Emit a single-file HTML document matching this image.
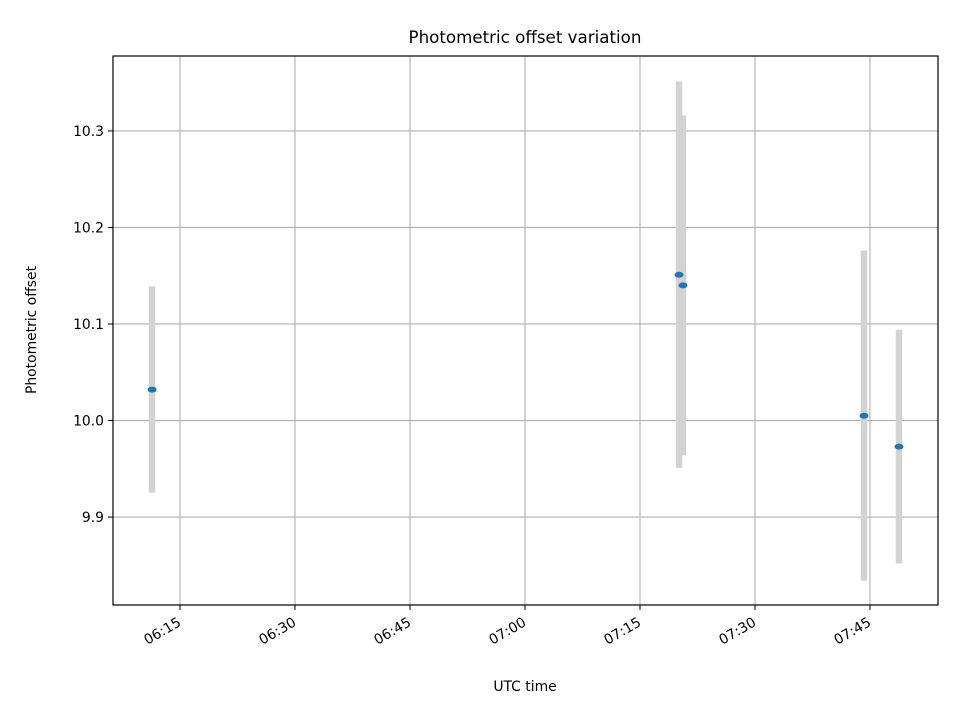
<!DOCTYPE html>
<html><head><meta charset="utf-8"><style>
body{margin:0;background:#fff;}
svg{display:block;font-family:"DejaVu Sans","Liberation Sans",sans-serif;}
</style></head><body>
<svg id="chart" width="960" height="720" viewBox="0 0 960 720">
<rect x="0" y="0" width="960" height="720" fill="#fff"/>
<g id="grid"></g>
<g id="bars"></g>
<g id="pts"></g>
<rect x="113" y="56" width="825" height="549" fill="none" stroke="#000" stroke-width="1.2"/>
<g id="xt"></g>
<g id="yt"></g>
<text x="525" y="43" text-anchor="middle" font-size="16.7">Photometric offset variation</text>
<text x="525" y="691" text-anchor="middle" font-size="13.9">UTC time</text>
<text x="36" y="330" text-anchor="middle" font-size="13.9" transform="rotate(-90 36 330)">Photometric offset</text>
</svg>
<script>
// times in minutes since 00:00 UTC
const times = [371.35, 440.09, 440.61, 464.22, 468.78];
const offsets = [10.032, 10.151, 10.140, 10.005, 9.973];
const errors = [0.107, 0.2, 0.176, 0.171, 0.121];
const xTickMinutes = [375, 390, 405, 420, 435, 450, 465];
const xTickLabels = ["06:15","06:30","06:45","07:00","07:15","07:30","07:45"];
const yTickValues = [9.9, 10.0, 10.1, 10.2, 10.3];
const yTickLabels = ["9.9","10.0","10.1","10.2","10.3"];

const L=113,R=938,T=56,B=605;
const xMin=366.26,xMax=473.87,yMin=9.8089,yMax=10.3776;
const sx=v=>L+(v-xMin)/(xMax-xMin)*(R-L);
const sy=v=>B-(v-yMin)/(yMax-yMin)*(B-T);
const NS="http://www.w3.org/2000/svg";
function mk(tag,attrs,parent,text){const e=document.createElementNS(NS,tag);for(const k in attrs)e.setAttribute(k,attrs[k]);if(text!==undefined)e.textContent=text;parent.appendChild(e);return e;}
const grid=document.getElementById('grid'),xt=document.getElementById('xt'),yt=document.getElementById('yt');
const bars=document.getElementById('bars'),pts=document.getElementById('pts');
xTickMinutes.forEach((m,i)=>{
  const x=sx(m);
  const g=mk('line',{x1:x,x2:x,y1:T,y2:B,stroke:'#b0b0b0','stroke-width':1.1},grid);
  
  
  const t=mk('line',{x1:x,x2:x,y1:B,y2:B+5,stroke:'#000','stroke-width':1},xt);
  
  
  const ax=x+2, ay=B+20;
  const lb=mk('text',{x:ax,y:ay,'font-size':13.9,'text-anchor':'end',transform:`rotate(-30 ${ax} ${ay})`},xt,xTickLabels[i]);
  
  
});
yTickValues.forEach((v,i)=>{
  const y=sy(v);
  const g=mk('line',{x1:L,x2:R,y1:y,y2:y,stroke:'#b0b0b0','stroke-width':1.1},grid);
  
  
  const t=mk('line',{x1:L-5,x2:L,y1:y,y2:y,stroke:'#000','stroke-width':1},yt);
  
  
  const lb=mk('text',{x:L-9,y:y+5,'font-size':13.9,'text-anchor':'end'},yt,yTickLabels[i]);
  
  
});
times.forEach((m,i)=>{
  const x=sx(m);
  const b=mk('line',{x1:x,x2:x,y1:sy(offsets[i]+errors[i]),y2:sy(offsets[i]-errors[i]),stroke:'#d3d3d3','stroke-width':6.5},bars);
  
  
  const p=mk('ellipse',{cx:x,cy:sy(offsets[i]),rx:4.5,ry:3,fill:'#1f77b4'},pts);
  
  
});
</script>
</body></html>
